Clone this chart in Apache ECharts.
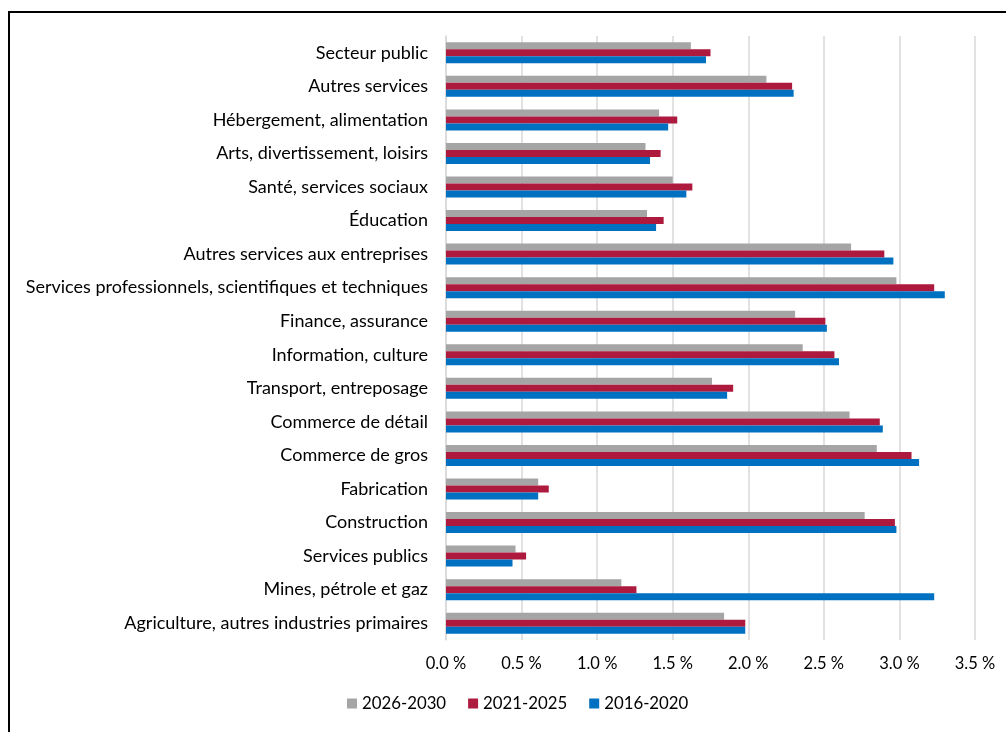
<!DOCTYPE html>
<html>
<head>
<meta charset="utf-8">
<script src="https://cdn.jsdelivr.net/npm/echarts@6/dist/echarts.min.js"></script>
<style>
html,body{margin:0;padding:0;background:#fff;}
#chart{width:1006px;height:732px;}
</style>
</head>
<body>
<div id="chart"></div>
<script>
const categories = ["Secteur public","Autres services","Hébergement, alimentation","Arts, divertissement, loisirs","Santé, services sociaux","Éducation","Autres services aux entreprises","Services professionnels, scientifiques et techniques","Finance, assurance","Information, culture","Transport, entreposage","Commerce de détail","Commerce de gros","Fabrication","Construction","Services publics","Mines, pétrole et gaz","Agriculture, autres industries primaires"];
const seriesNames = ["2026-2030","2021-2025","2016-2020"];
const values2026_2030 = [1.62,2.12,1.41,1.32,1.50,1.33,2.68,2.98,2.31,2.36,1.76,2.67,2.85,0.61,2.77,0.46,1.16,1.84];
const values2021_2025 = [1.75,2.29,1.53,1.42,1.63,1.44,2.90,3.23,2.51,2.57,1.90,2.87,3.08,0.68,2.97,0.53,1.26,1.98];
const values2016_2020 = [1.72,2.30,1.47,1.35,1.59,1.39,2.96,3.30,2.52,2.60,1.86,2.89,3.13,0.61,2.98,0.44,3.23,1.98];
const xTicks = [0,0.5,1.0,1.5,2.0,2.5,3.0,3.5];

const colors = ['#a5a5a5','#ae1a3e','#0070c0'];
const fontFamily = 'Lato, "Open Sans", sans-serif';
const chart = echarts.init(document.getElementById('chart'), null, {renderer:'canvas'});
const data = [values2026_2030, values2021_2025, values2016_2020];
chart.setOption({
  animation:false,
  textStyle:{fontFamily:fontFamily},
  graphic:[{type:'rect', shape:{x:9,y:12,width:1100,height:900}, style:{fill:'none',stroke:'#000',lineWidth:2}, silent:true}],
  grid:{left:446,right:31,top:36,bottom:92,containLabel:false},
  legend:{
    data:seriesNames, bottom:15, left:342,
    itemWidth:10,itemHeight:10,itemGap:22, icon:'rect',
    textStyle:{fontSize:16.8,color:'#000',fontFamily:fontFamily}
  },
  xAxis:{
    type:'value', min:xTicks[0], max:xTicks[xTicks.length-1], interval:0.5,
    axisLine:{show:false}, axisTick:{show:false},
    splitLine:{show:true,lineStyle:{color:'#d9d9d9',width:1.5}},
    axisLabel:{margin:15,fontSize:16.5,color:'#000',formatter:v=>v.toFixed(1)+' %'}
  },
  yAxis:{
    type:'category', data:categories, inverse:true,
    axisLine:{show:true,lineStyle:{color:'#d9d9d9',width:1.5}}, axisTick:{show:false},
    axisLabel:{margin:18,fontSize:18,color:'#000'}
  },
  series:seriesNames.map((n,i)=>({
    name:n,type:'bar',data:data[i],barWidth:7,barGap:'0%',barCategoryGap:'37%',
    itemStyle:{color:colors[i]}
  }))
});
</script>
</body>
</html>
